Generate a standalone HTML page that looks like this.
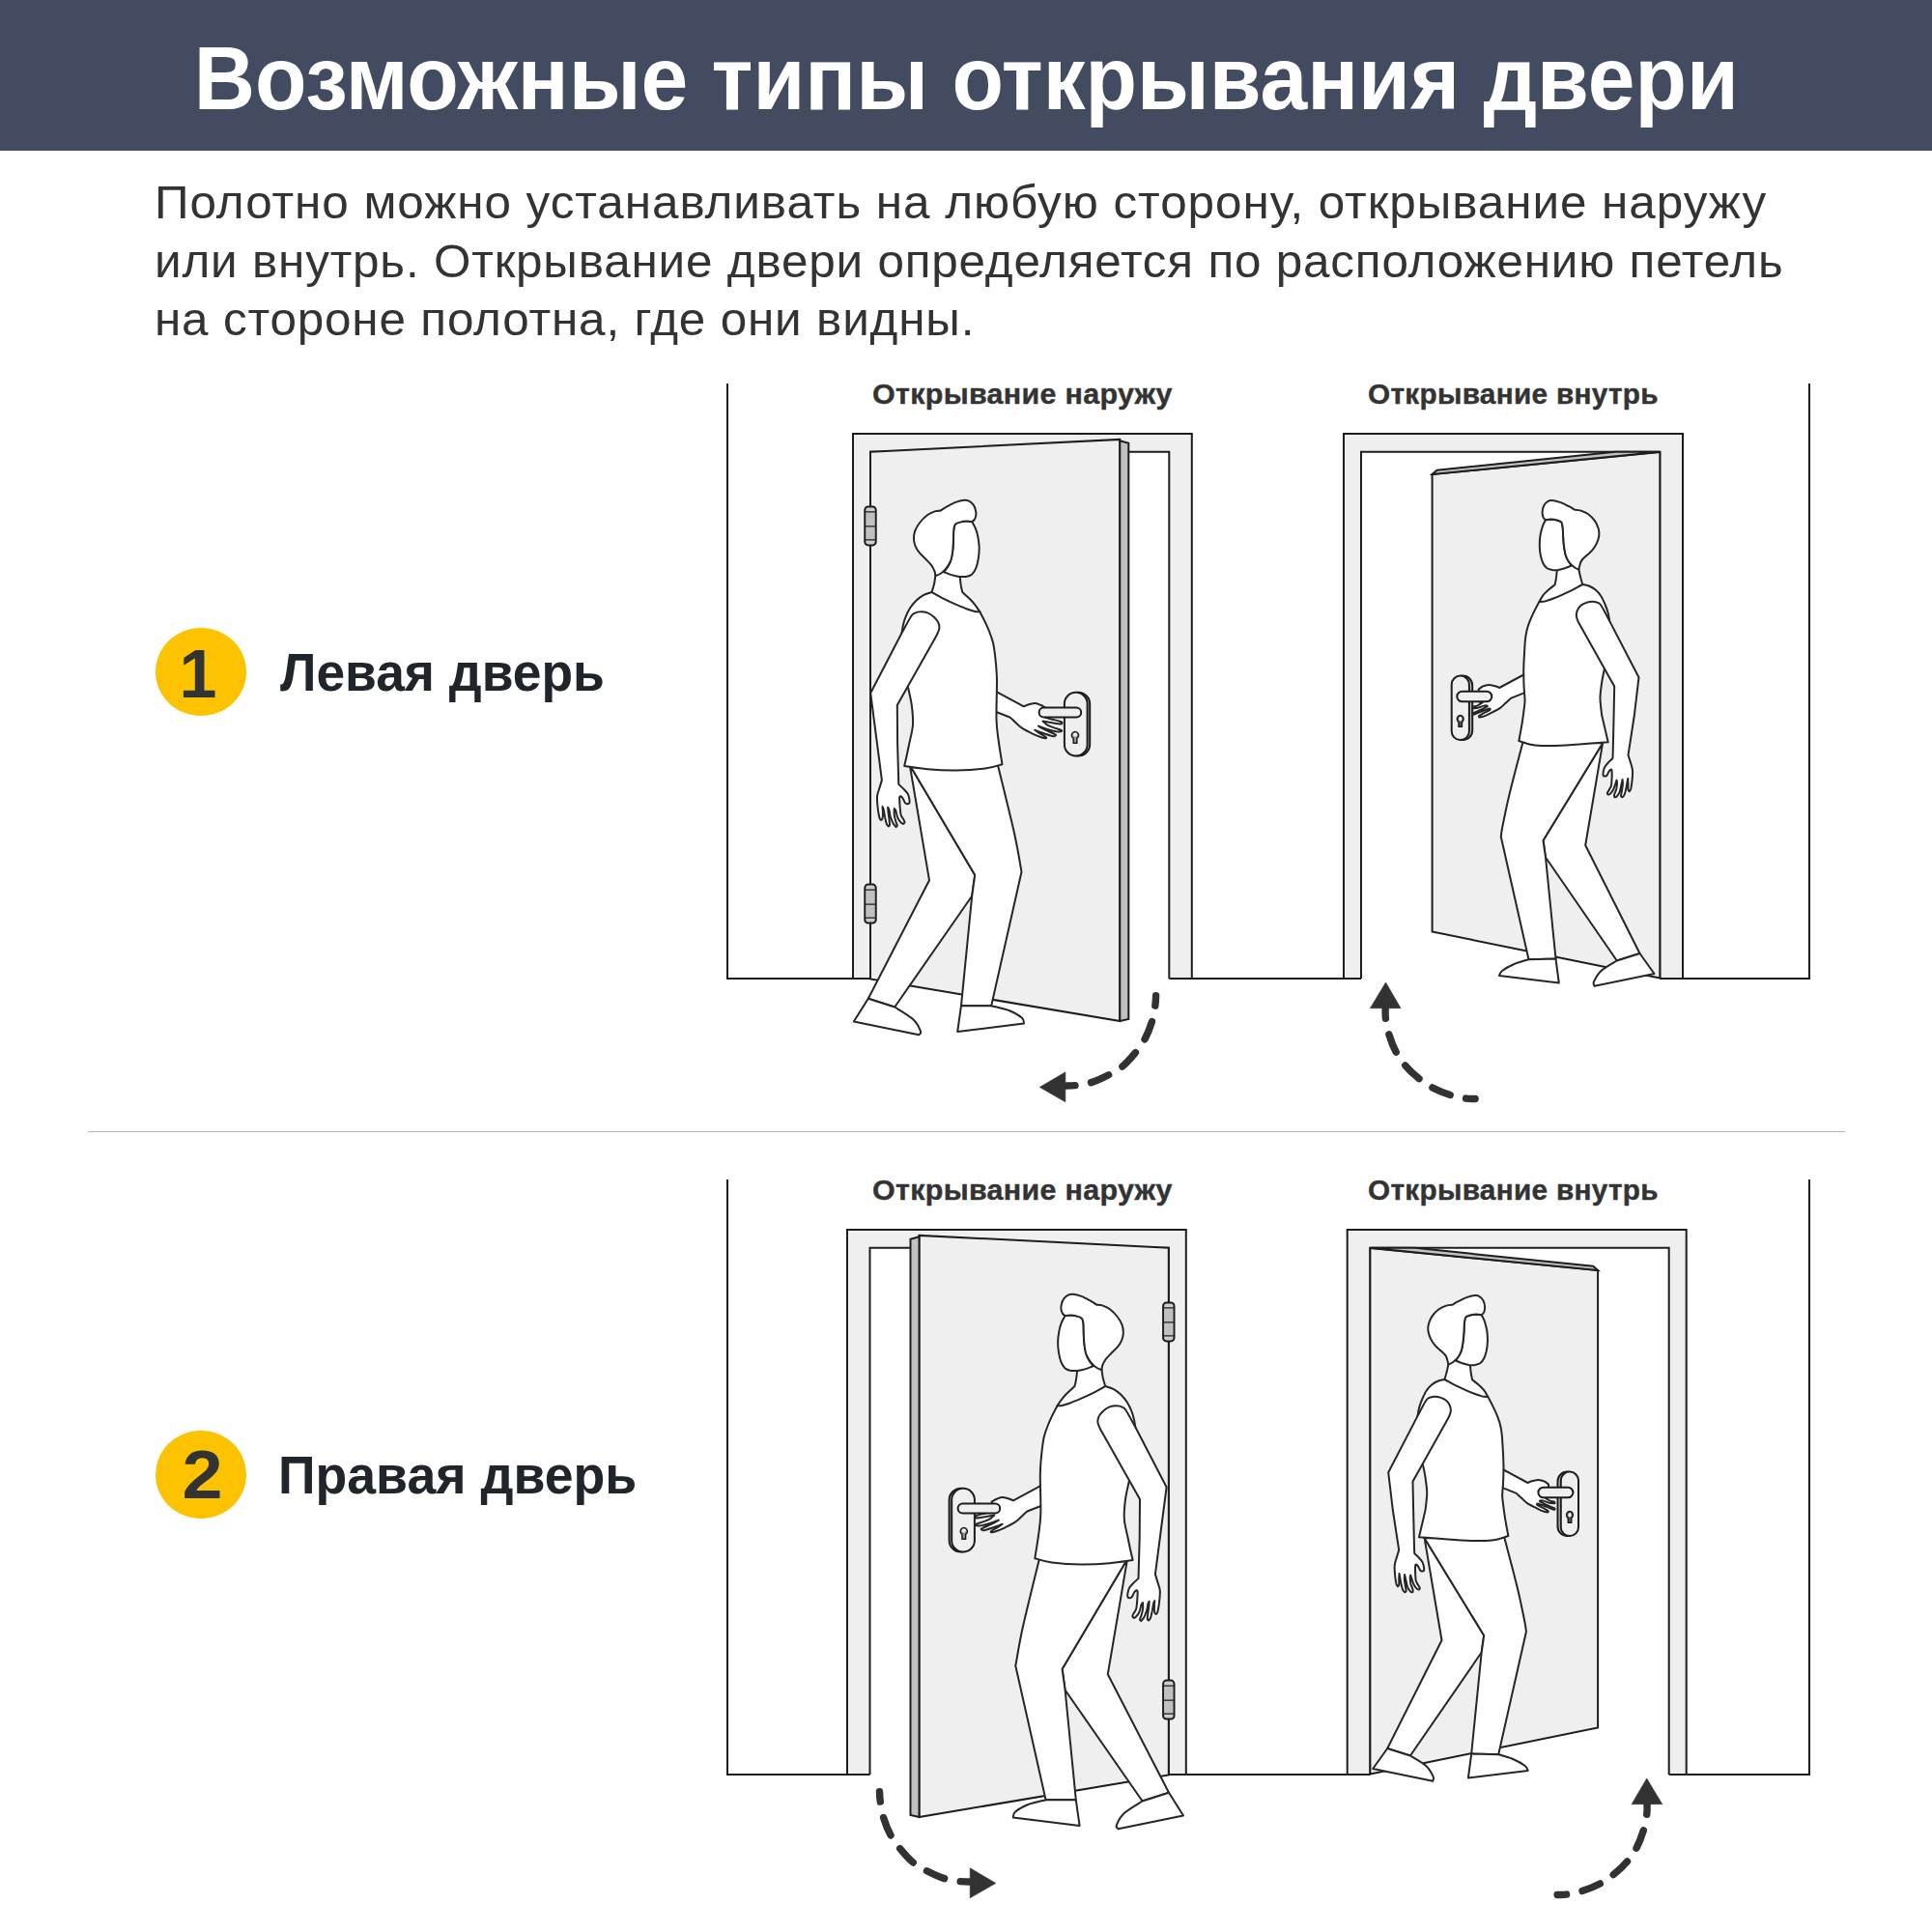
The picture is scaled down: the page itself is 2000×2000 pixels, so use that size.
<!DOCTYPE html>
<html lang="ru">
<head>
<meta charset="utf-8">
<title>Возможные типы открывания двери</title>
<style>
html,body{margin:0;padding:0;background:#fff;}
body{width:2000px;height:2000px;position:relative;overflow:hidden;font-family:"Liberation Sans",sans-serif;color:#333;}
.hdr{position:absolute;left:0;top:0;width:2000px;height:156px;background:#434b60;}
.title{position:absolute;left:0;top:0;width:2000px;height:155px;margin:0;color:#fff;font-weight:700;font-size:92.5px;line-height:155px;text-align:center;white-space:nowrap;letter-spacing:0px;}
.title span{display:inline-block;position:relative;top:4px;left:0.5px;transform:scaleX(0.947);transform-origin:50% 50%;}
.para{position:absolute;left:160px;top:180.2px;margin:0;font-size:47.5px;line-height:60.4px;color:#333;white-space:nowrap;letter-spacing:1.8px;}
.para span{display:block;transform-origin:0 50%;transform:scaleX(1.04);}
.lbl{position:absolute;font-weight:700;font-size:29px;line-height:34px;letter-spacing:0.3px;-webkit-text-stroke:0.4px #333;transform-origin:0 50%;color:#333;white-space:nowrap;}
.num{position:absolute;width:94px;height:91.4px;border-radius:50%;background:#fec300;color:#333;font-weight:700;font-size:70px;line-height:91.4px;text-align:center;}
.num span{display:inline-block;}
.big{position:absolute;transform-origin:0 50%;font-weight:700;font-size:55px;line-height:64px;color:#20252b;white-space:nowrap;}
.hr{position:absolute;left:91px;top:1171px;width:1819px;height:1px;background:#b3b3b3;}
</style>
</head>
<body>
<div class="hdr"></div>
<h1 class="title"><span id="title">Возможные типы открывания двери</span></h1>
<p class="para"><span style="letter-spacing:0.92px"><i id="p1" style="font-style:normal">Полотно можно устанавливать на любую сторону, открывание наружу</i></span><span style="letter-spacing:0.78px"><i id="p2" style="font-style:normal">или внутрь. Открывание двери определяется по расположению петель</i></span><span style="letter-spacing:0.8px"><i id="p3" style="font-style:normal">на стороне полотна, где они видны.</i></span></p>
<svg width="2000" height="2000" viewBox="0 0 2000 2000" style="position:absolute;left:0;top:0">
<defs>
<g id="fig1" fill="none" stroke="#1d1d1b" stroke-width="2.0" stroke-linejoin="miter" stroke-linecap="butt"><path d="M883 1013V449H1233.8V1013H1210.3V467.8H901V1013Z" fill="#efefef" stroke="none"/><path d="M883 1013V449H1233.8V1013M901 1013V467.8H1210.3V1013M883 1013H901M1210.3 1013H1233.8"/><path d="M901 467.8L1159.3 454.9V1057L901 1013.5Z" fill="#efefef"/><path d="M1159.3 456.3L1168.3 458.7V1055L1159.3 1057Z" fill="#c1c1c1"/><rect x="895.3" y="524.4" width="11.4" height="40" rx="3.4" fill="#cdcdcd"/><rect x="896.9" y="529.9" width="8.2" height="29" fill="#c0c0c0" stroke="none"/><path d="M895.3 529.9H906.7M895.3 544.9H906.7M895.3 558.9H906.7" stroke-width="1.4"/><rect x="895.3" y="915.6" width="11.4" height="40" rx="3.4" fill="#cdcdcd"/><rect x="896.9" y="921.1" width="8.2" height="29" fill="#c0c0c0" stroke="none"/><path d="M895.3 921.1H906.7M895.3 936.1H906.7M895.3 950.1H906.7" stroke-width="1.4"/><rect x="1104" y="716.7" width="24.2" height="65.8" rx="12.1" fill="#c1c1c1"/><rect x="1101.9" y="716.7" width="23.7" height="65.8" rx="11.85" fill="#efefef"/><path d="M1111.2 769.3V764.3A3.6 3.6 0 1 1 1114.8 764.3V769.3Z" fill="#9a9a9a" stroke-width="1.5"/><circle cx="1113" cy="760.6" r="2" fill="#efefef" stroke="none"/></g>
<g id="per1" fill="#fff" stroke="#262626" stroke-width="2.0" stroke-linejoin="round" stroke-linecap="round"><path d="M1029.3 714.8L1059.8 731.3C1060.8 730.9 1064 729.6 1066 729C1067.9 728.5 1069.7 727.9 1071.6 728C1073.4 728.1 1075.4 729 1077.1 729.8C1078.9 730.5 1081.3 732.1 1082.1 732.5L1082.1 742.8C1084 743.3 1090.5 744.8 1093.3 745.6C1096.1 746.4 1097.7 746.9 1098.8 747.5C1099.8 748 1099.6 748.4 1099.4 748.7C1099.2 749 1099.5 749.5 1097.6 749.4C1095.8 749.3 1091.3 748.5 1088.3 748.1C1085.3 747.6 1081.1 746.9 1079.6 746.6C1080.6 747.4 1082.7 749.9 1085.2 751.2C1087.7 752.5 1092.3 753.7 1094.5 754.5C1096.8 755.3 1098.1 755.5 1098.8 756C1099.4 756.4 1099.1 757 1098.4 757.2C1097.7 757.5 1096.7 757.8 1094.5 757.5C1092.3 757.1 1088.5 756.3 1085.2 755.3C1082 754.4 1076.7 752.2 1075 751.6C1076.2 752.3 1079.3 754.3 1082.1 755.7C1085 757.1 1090.3 759.1 1092 760.1C1093.8 761 1092.9 761.1 1092.5 761.4C1092.2 761.8 1091.9 762.5 1090.2 762.2C1088.4 761.9 1085.3 760.8 1082.1 759.7C1079 758.6 1073.1 756.4 1071.2 755.7C1072.2 756.4 1075.2 758.3 1077.1 759.6C1079.1 760.8 1081.9 762.4 1082.7 763.2C1083.6 764 1083.3 764.5 1082.1 764.3C1081 764.2 1078.2 763.4 1075.9 762.5C1073.6 761.7 1071 760.5 1068.4 759.3C1065.9 758 1062.7 756.6 1060.4 755.2C1058.1 753.9 1056.9 752.9 1054.8 751.2C1052.7 749.4 1049.6 746.2 1048 744.7C1046.3 743.2 1045.4 742.6 1044.8 742.2L1029.3 736.3Z"/><path d="M941.8 792L1009.2 905.8L1006.2 927.5L926.2 1042.5L898.8 1033.8L962 911.2Z"/><path d="M941.8 792L1032.2 790L1033.8 795.5C1036.5 806.7 1046 844.7 1050 862.5C1054 880.3 1056.2 895.8 1057.5 902.5L1026.2 1041.2L995 1041.2L1006.2 927.5L1009.2 905.8Z"/><path d="M898.8 1033.8L883.8 1057.5L951.2 1071.2C951.5 1070.6 954 1070.2 953 1067.5C952 1064.8 949.5 1059.2 945 1055C940.5 1050.8 929.4 1044.6 926.2 1042.5Z"/><path d="M995 1041.2L991.2 1068L1060 1059.5C1059.7 1058.5 1060.5 1056 1058 1053.8C1055.5 1051.5 1050.3 1048.3 1045 1046.2C1039.7 1044.2 1029.4 1042.1 1026.2 1041.2Z"/><path d="M964.6 613C963.1 613.6 958.6 614.7 955.9 616.1C953.2 617.6 950.7 619.6 948.4 621.7C946.2 623.9 944.1 626.3 942.2 629.2C940.4 632.1 938.5 636 937.3 639.1C936 642.2 935.4 645.1 934.8 647.8C934.2 650.5 933.7 654 933.5 655.3L940 711.2C940.6 714.4 942.9 723.5 943.8 730C944.6 736.5 945.4 743.3 945 750C944.6 756.7 942.7 762.8 941.2 770C939.8 777.2 937.1 789.2 936.2 793C940.2 793.5 951 795.5 960 796.2C969 797 980 797.6 990 797.5C1000 797.4 1012.1 796.5 1020 795.5C1027.9 794.5 1034.6 792 1037.5 791.2C1036.9 787.3 1034.8 775.2 1033.8 767.5C1032.8 759.8 1031.8 755.4 1031.5 745C1031.2 734.6 1032.1 714.4 1032 705C1031.9 695.6 1031.4 693.6 1031.1 688.8C1030.7 684.1 1030.3 680.3 1029.8 676.4C1029.3 672.5 1028.9 668.9 1028 665.2C1027 661.5 1025.7 657.8 1024.2 654C1022.8 650.3 1020.9 646.3 1019.3 642.9C1017.6 639.4 1015.1 634.9 1014.3 633.3C1013.5 632.1 1011.2 628.4 1009.3 626.1C1007.5 623.7 1005.3 621.4 1003.1 619.3C1000.9 617.1 997.4 614.1 996.3 613C996 611.8 995.1 608.2 994.7 605.6C994.2 603 993.9 598.9 993.8 597.5L991.9 587L974.5 587L968.3 596.3C968.1 597.6 967.7 601.6 967.1 604.3C966.5 607.1 965 611.6 964.6 613Z"/><path d="M964.6 613C966.7 614.2 972.9 617.8 977 619.9C981.2 622 985.3 623.9 989.4 625.7C993.6 627.5 998.6 629.6 1001.9 630.8C1005.2 632 1007.2 632.5 1009.3 632.9C1011.4 633.3 1013.5 633.2 1014.3 633.3" fill="none"/><path d="M933.5 655.3C935.1 652.5 940.7 641.9 942.9 638.5C945 635.1 944.9 635.7 946.6 634.8C948.2 633.9 950.5 633.2 952.8 633.2C955.1 633.1 957.9 633.5 960.2 634.4C962.6 635.4 965.2 637.2 967.1 638.9C968.9 640.6 970.6 642.7 971.4 644.7C972.3 646.7 972.6 648.8 972.3 650.9C972 653.1 970 656.6 969.6 657.8L928.8 730L929.1 770L930.3 811.9C931.2 812.8 934.3 815.6 935.9 817.2C937.5 818.8 938.7 820 939.6 821.6C940.5 823.1 940.9 825 941.2 826.5C941.5 828.1 941.7 829.9 941.5 830.9C941.2 831.8 940.4 832.2 939.6 832.2C938.9 832.3 937.8 831.7 937.1 831.2C936.5 830.6 936.4 829.9 935.9 829C935.4 828.1 935 826.7 934.3 825.9C933.7 825.1 932.7 824.5 932.2 824.3C931.7 824.2 931.4 824.5 931.2 825.3C931.1 826.1 931.1 826.8 931.2 829C931.3 831.2 931.6 835.8 931.9 838.3C932.1 840.9 932.2 842.6 932.8 844.2C933.4 845.9 934.7 847.1 935.3 848.3C935.9 849.5 936.6 850.6 936.5 851.4C936.4 852.2 935 852.8 934.7 853C934.1 852.6 932.5 851.3 931.6 850.1C930.6 848.9 929.8 847.6 929.1 845.8C928.3 843.9 927.7 840.4 927.2 838.9C926.7 837.5 926.1 837.3 925.8 837C925.8 838 925.4 841.1 925.7 843.3C925.9 845.5 926.7 848.3 927.2 850.1C927.7 852 928.7 853.5 928.8 854.5C928.8 855.5 927.7 855.9 927.5 856.1C927 855.6 925.7 854.3 924.7 852.6C923.8 850.9 922.7 848.2 921.9 845.8C921.2 843.4 920.8 840 920.4 838.3C919.9 836.6 919.3 836.1 919.1 835.7C919.2 836.5 919.2 838.2 919.4 840.2C919.6 842.2 920.1 845.4 920.4 847.6C920.6 849.9 921.1 852.5 921 853.9C920.9 855.2 920 855.2 919.8 855.5C919.4 855.1 918.5 854.6 917.9 853.2C917.3 851.8 916.9 849.5 916.3 847C915.8 844.5 915.2 840.3 914.8 838.3C914.3 836.3 913.7 835.6 913.5 835.1C913.6 836.1 913.9 839.4 913.9 841.4C913.9 843.5 913.9 846.1 913.5 847.3C913.2 848.6 912.2 848.7 912 849C911.8 848.7 911.2 848.5 910.7 847.3C910.3 846.2 909.9 844.1 909.5 842C909.1 840 908.8 837.7 908.6 835.2C908.3 832.7 908 829.2 908 827.1C907.9 825.1 908 824.3 908.3 822.8C908.6 821.2 909 820.4 909.8 817.8C910.6 815.3 912.4 809.3 912.9 807.6L901.2 717.5Z"/><path d="M1006.2 540C1006.8 541.2 1008.9 544.6 1009.9 547.2C1011 549.9 1011.8 552.6 1012.4 555.9C1013 559.2 1013.6 563.4 1013.7 567.1C1013.7 570.8 1013.4 574.7 1012.8 578.3C1012.2 581.8 1011.4 585.5 1010.3 588.2C1009.2 590.9 1007.9 593 1006.2 594.4C1004.5 595.9 1002.2 596.5 1000 596.9C997.8 597.3 995.5 597.1 993.2 596.9C990.8 596.6 988.4 596.2 985.7 595.4C983 594.6 978.5 592.7 977 592.2C978.1 590.7 981.7 587 983.2 583.2C984.8 579.5 985.7 573.7 986.3 569.6C987 565.4 986.8 561.9 987 558.4C987.1 554.9 987 551 987.3 548.4C987.6 545.9 987.6 544.2 988.8 542.9C990 541.5 992.4 540.9 994.4 540.4C996.4 539.8 998.7 539.6 1000.6 539.5C1002.6 539.4 1005.3 539.9 1006.2 540Z"/><path d="M968.3 596.3C968.2 595.5 968.3 593.7 967.7 591.9C967.1 590.2 966.1 587.9 964.6 585.7C963 583.5 960.5 581.1 958.4 578.9C956.3 576.7 953.9 574.8 952.2 572.7C950.4 570.5 948.9 568.2 947.8 565.8C946.8 563.5 946.1 561.1 946 558.4C945.9 555.7 946.2 552.6 947.2 549.7C948.2 546.8 950.1 543.7 952.2 541C954.2 538.3 957.1 535.4 959.6 533.5C962.1 531.6 964.8 530.4 967.1 529.6C969.4 528.8 972.3 528.9 973.3 528.8C974.3 528.2 976.8 526.3 979.5 524.8C982.2 523.4 986.3 521.1 989.4 519.9C992.5 518.7 995.9 518 998.1 517.8C1000.4 517.6 1001.6 517.9 1003.1 518.6C1004.7 519.4 1006.3 520.8 1007.5 522.4C1008.6 523.9 1009.5 526.1 1009.9 528C1010.4 529.8 1010.5 531.9 1010.3 533.5C1010.1 535.2 1009.4 536.8 1008.7 537.9C1008 539 1006.6 539.6 1006.2 540C1005.3 539.9 1002.6 539.4 1000.6 539.5C998.7 539.6 996.4 539.8 994.4 540.4C992.4 540.9 990 541.5 988.8 542.9C987.6 544.2 987.6 545.9 987.3 548.4C987 551 987.1 554.9 987 558.4C986.8 561.9 986.7 566 986.3 569.6C985.9 573.1 985.5 576.5 984.5 579.5C983.4 582.5 981.8 585.3 980.1 587.6C978.5 589.9 976.5 591.7 974.5 593.2C972.6 594.6 969.4 595.8 968.3 596.3Z"/></g>
<g id="lev1" fill="#efefef" stroke="#1d1d1b" stroke-width="2.0"><rect x="1075.6" y="732.6" width="43.6" height="10" rx="5"/></g>
<g id="fig2" fill="none" stroke="#1d1d1b" stroke-width="2.0" stroke-linejoin="miter" stroke-linecap="butt"><path d="M1391 1013V449H1742V1013H1718.3V467.8H1409V1013Z" fill="#efefef" stroke="none"/><path d="M1391 1013V449H1742V1013M1409 1013V467.8H1718.3V1013M1391 1013H1409M1718.3 1013H1742"/><path d="M1718.3 468L1482.6 491V964.5L1718.3 1012.5Z" fill="#efefef"/><path d="M1482.6 491L1487.5 486.8L1672 467.8H1718.3Z" fill="#c1c1c1"/><rect x="1504.6" y="699.6" width="19.6" height="66.4" rx="9.8" fill="#c1c1c1"/><rect x="1502.7" y="699.6" width="18.2" height="66.4" rx="9.1" fill="#efefef"/><path d="M1510 752.3V747.6A3.4 3.8 0 1 1 1513.4 747.6V752.3Z" fill="#555" stroke-width="1.5"/><ellipse cx="1511.7" cy="744.2" rx="1.7" ry="2.2" fill="#efefef" stroke="none"/></g>
<g id="per2" fill="#fff" stroke="#262626" stroke-width="2.0" stroke-linejoin="round" stroke-linecap="round"><path d="M1578.2 698L1552.1 712C1551.7 711.8 1550.9 711.2 1549.6 710.7C1548.4 710.3 1546.3 709.6 1544.7 709.4C1543 709.1 1541.3 709 1539.7 709.2C1538 709.4 1536.2 710 1534.7 710.7C1533.2 711.5 1531.4 713.1 1530.7 713.5L1530.7 726.3L1534.7 727.2C1533.9 727.7 1531.4 729.6 1529.8 730.3C1528.1 731.1 1525.7 731.2 1524.8 731.7C1523.9 732.2 1524.4 733 1524.3 733.3C1525.2 733.2 1527.8 733.2 1529.8 732.8C1531.7 732.3 1534.4 731 1536 730.6C1537.5 730.2 1538.4 730.3 1538.9 730.5C1539.5 730.7 1540.5 730.8 1539.1 731.7C1537.6 732.6 1532.8 734.8 1530.4 735.9C1527.9 737 1525.3 738.1 1524.3 738.5C1524.4 738.7 1523.6 740.1 1525.1 739.8C1526.6 739.4 1530.8 737.5 1533.5 736.5C1536.1 735.5 1539.5 734.1 1541.1 733.7C1542.6 733.3 1542.5 733.9 1542.5 734.2C1542.6 734.4 1543.1 734.5 1541.6 735.4C1540 736.3 1535.2 738.6 1533.5 739.6C1531.7 740.6 1531.4 741 1531 741.3C1531.1 741.5 1530.5 742.6 1531.7 742.5C1533 742.4 1536.1 741.5 1538.4 740.6C1540.8 739.6 1543.5 738.1 1545.9 736.8C1548.3 735.6 1550.7 734.6 1552.7 733.1C1554.8 731.7 1556.5 729.8 1558.3 728.1C1560.2 726.4 1563 723.7 1563.9 722.9L1578.2 717.1Z"/><path d="M1659.1 769.2L1597.5 870L1600 887.5L1673.8 994.5L1697.5 987L1641.2 875Z"/><path d="M1576.6 768C1574.2 777.1 1566 808 1562.5 822.5C1559 837 1557 847.7 1555.5 855C1554 862.3 1554 864.4 1553.8 866.2L1582.5 993.2L1610.5 992.5L1600 887.5L1597.5 870L1659.1 769.2Z"/><path d="M1582.5 993.2C1580 994 1572.1 996 1567.5 998C1562.9 1000 1557.6 1003 1555 1005C1552.4 1007 1552.5 1009.2 1552 1010L1613.8 1017.5L1610.5 992.5Z"/><path d="M1673.8 994.5C1671 996.2 1661.5 1001.4 1657.5 1005C1653.5 1008.6 1651.2 1013.6 1650 1016.2C1648.8 1018.9 1650.4 1020 1650.5 1020.8L1712.5 1008L1697.5 987Z"/><path d="M1638.3 605C1639.4 605.3 1643.1 605.9 1645.3 606.8C1647.6 607.8 1649.6 608.9 1651.6 610.6C1653.5 612.2 1655.5 614.3 1657.1 616.8C1658.8 619.3 1660.2 622.6 1661.5 625.5C1662.7 628.4 1663.8 631.3 1664.6 634.2C1665.4 637.1 1665.9 641.4 1666.2 642.9L1660.9 692.5C1660.5 694.6 1659.1 700.2 1658.4 705C1657.7 709.7 1656.7 716.8 1656.5 721.1C1656.3 725.5 1656.9 727.9 1657.1 731.1C1657.4 734.2 1658 738.5 1658.1 740L1664.7 768.3C1659.7 768.6 1644 769.8 1634.8 770.4C1625.7 771.1 1616.5 771.7 1610 772C1603.5 772.2 1600.1 772.2 1595.6 771.9C1591.1 771.7 1587 771.2 1583.2 770.4C1579.3 769.5 1574.1 767.5 1572.3 767C1572.9 763.9 1574.7 754.5 1575.7 748.3C1576.7 742.1 1577.7 733.8 1578.2 729.7C1578.7 725.5 1578.6 726.6 1578.5 723.5C1578.4 720.4 1577.8 715.2 1577.6 711.1C1577.4 706.9 1577.3 701.9 1577.3 698.6C1577.2 695.3 1577.1 695 1577.3 691.3C1577.4 687.6 1577.7 681.2 1578 676.4C1578.3 671.6 1578.5 666.7 1578.9 662.7C1579.3 658.8 1579.8 655.9 1580.5 652.8C1581.2 649.7 1581.9 647.4 1583.2 644.1C1584.5 640.8 1586.5 636.4 1588.2 632.9C1589.9 629.4 1592.5 624.6 1593.4 623C1594.1 621.8 1595.9 618.2 1597.5 616.1C1599.1 614.1 1601.1 612.4 1603.1 610.6C1605.1 608.8 1608.5 606.2 1609.6 605.3C1609.8 604.3 1610.4 601.8 1610.8 599.4C1611.2 596.9 1611.6 592.1 1611.8 590.7L1611.8 582L1629.2 582L1634.4 589.7C1634.7 591.1 1635.6 595.6 1636.3 598.1C1636.9 600.7 1637.9 603.8 1638.3 605Z"/><path d="M1638.3 605C1636.5 605.9 1631.3 608.8 1628 610.6C1624.6 612.3 1621.3 613.8 1618 615.3C1614.7 616.8 1611.2 618.3 1608.1 619.5C1605 620.7 1601.8 621.8 1599.4 622.4C1596.9 622.9 1594.4 622.9 1593.4 623" fill="none"/><path d="M1666.2 642.9C1664.8 640.3 1659.7 630.4 1657.8 627.3C1655.8 624.2 1656.1 625 1654.7 624.2C1653.2 623.5 1651 622.8 1649.1 622.7C1647.1 622.6 1644.9 622.9 1642.9 623.6C1640.8 624.3 1638.3 625.3 1636.6 626.7C1634.9 628.2 1633.5 630.4 1632.7 632.3C1631.9 634.2 1631.7 635.9 1631.9 637.9C1632.1 639.9 1633.6 643.1 1633.9 644.1L1671.2 710.6L1670.6 740L1669.6 782.9L1669.3 785.3C1668.7 785.9 1667.2 787.1 1665.9 788.4C1664.6 789.8 1662.5 791.9 1661.6 793.4C1660.6 795 1660.3 796.2 1660 797.8C1659.7 799.3 1659.4 801.8 1659.6 802.7C1659.7 803.7 1660.3 803.6 1660.9 803.6C1661.6 803.6 1662.7 803.4 1663.4 802.7C1664.1 802.1 1664.3 800.6 1665 799.6C1665.6 798.6 1666.6 797.3 1667.1 796.8C1667.7 796.4 1668.1 796.1 1668.4 797C1668.6 797.8 1668.7 799.5 1668.7 802.1C1668.6 804.7 1668.4 810.4 1668.1 812.7C1667.8 814.9 1667.5 814.4 1666.8 815.8C1666.2 817.1 1664.4 819.6 1664 820.7C1663.6 821.9 1664.4 822.1 1664.5 822.4C1664.8 822.3 1665.7 822.7 1666.5 822C1667.4 821.3 1668.7 819.9 1669.6 818.3C1670.6 816.6 1671.5 813.8 1672.1 812C1672.8 810.3 1673.3 808.3 1673.5 807.6C1673.6 808 1674 808.7 1674 810.2C1674 811.7 1673.8 814.3 1673.4 816.4C1672.9 818.5 1671.5 821.1 1671.2 822.6C1670.8 824.1 1671.3 824.8 1671.3 825.2C1671.6 825.1 1672.5 825.6 1673.4 824.8C1674.2 823.9 1675.6 822.1 1676.5 820.1C1677.3 818.1 1677.8 814.9 1678.3 812.7C1678.8 810.5 1679.4 807.9 1679.6 807C1679.6 807.7 1680 809.4 1679.9 811.4C1679.8 813.4 1679.3 816.8 1678.9 818.9C1678.6 821 1678 822.8 1678 823.9C1678.1 824.9 1679 825.1 1679.3 825.3C1679.6 825 1680.8 824.7 1681.4 823.2C1682.1 821.7 1682.8 818.7 1683.3 816.4C1683.8 814.1 1684.2 811.3 1684.5 809.6C1684.8 807.8 1685.1 806.6 1685.2 806C1685.2 806.9 1685.4 809.5 1685.5 811.4C1685.5 813.4 1685.3 816.3 1685.5 817.6C1685.7 819 1686.5 819 1686.7 819.3C1687 818.8 1687.8 818.2 1688.3 816.4C1688.7 814.6 1689.2 811.1 1689.5 808.3C1689.8 805.5 1690.1 801.9 1690.1 799.6C1690.1 797.3 1689.9 796.5 1689.5 794.7C1689.1 792.8 1688.3 790.6 1687.6 788.4C1687 786.3 1685.8 782.8 1685.5 781.6L1691.9 740L1696.5 701.2Z"/><path d="M1600 538.3C1599.5 539.3 1597.8 542 1596.9 544.7C1596 547.5 1594.9 551.1 1594.4 554.7C1593.9 558.2 1593.7 562.3 1593.8 565.8C1593.9 569.4 1594.4 572.9 1595 575.8C1595.7 578.7 1596.5 581.2 1597.5 583.2C1598.6 585.3 1599.7 586.8 1601.2 588C1602.8 589.1 1604.9 589.7 1606.8 590.1C1608.8 590.4 1610.8 590.4 1613 590.1C1615.3 589.7 1618.2 588.7 1620.5 588C1622.8 587.2 1625.7 585.9 1626.7 585.5C1625.8 583.9 1622.4 578.8 1621.1 575.8C1619.9 572.7 1619.7 570.2 1619.3 567.1C1618.8 564 1618.5 560.5 1618.3 557.1C1618 553.8 1618.1 549.9 1617.8 547.2C1617.5 544.5 1617.5 542.2 1616.5 540.7C1615.5 539.3 1613.6 539 1611.8 538.5C1610 538 1607.6 537.6 1605.6 537.5C1603.6 537.5 1600.9 538.1 1600 538.3Z"/><path d="M1634.4 589.7C1634.5 589 1634.7 587.3 1635.2 585.7C1635.6 584.1 1636.1 581.9 1637.3 580.1C1638.4 578.4 1640.5 576.8 1642.2 575.2C1644 573.5 1646.1 572.3 1647.8 570.2C1649.6 568.1 1651.6 565.3 1652.8 562.7C1654 560.1 1655 557.2 1655.3 554.7C1655.6 552.1 1655.4 549.8 1654.7 547.2C1653.9 544.6 1652.7 541.6 1650.9 539.1C1649.2 536.6 1646.5 534.1 1644.1 532.3C1641.7 530.5 1639 529.4 1636.6 528.6C1634.3 527.8 1631 527.7 1629.8 527.6C1628.9 527 1626.6 525.5 1624.2 524.2C1621.8 523 1618.4 521.2 1615.5 520.1C1612.6 519.1 1609.1 518.2 1606.8 518C1604.6 517.9 1603.3 518.3 1601.9 519.3C1600.4 520.2 1599 521.8 1598.1 523.6C1597.3 525.4 1596.7 527.8 1596.6 529.8C1596.5 531.8 1597 534 1597.5 535.4C1598.1 536.8 1599.6 537.8 1600 538.3C1600.9 538.1 1603.6 537.5 1605.6 537.5C1607.6 537.6 1610 538 1611.8 538.5C1613.6 539 1615.5 539.3 1616.5 540.7C1617.5 542.2 1617.5 544.5 1617.8 547.2C1618.1 549.9 1618 553.8 1618.3 557.1C1618.5 560.5 1618.8 564 1619.3 567.1C1619.7 570.2 1620.2 573.2 1621.1 575.8C1622 578.4 1623.4 580.7 1624.8 582.6C1626.3 584.5 1628.2 586 1629.8 587.2C1631.4 588.4 1633.6 589.3 1634.4 589.7Z"/></g>
<g id="lev2" fill="#efefef" stroke="#1d1d1b" stroke-width="2.0"><rect x="1508.3" y="715.7" width="36" height="10.6" rx="5.3"/></g>
<g id="arr1"><path d="M1196.6 1030.7C1196.5 1032.4 1196.5 1036.6 1195.8 1041.1C1195.1 1045.6 1194.3 1051.8 1192.5 1057.6C1190.7 1063.4 1187.9 1070.5 1185.1 1075.8C1182.3 1081.1 1179.4 1084.8 1175.5 1089.5C1171.6 1094.2 1166.5 1100.1 1161.9 1104C1157.3 1107.9 1153.2 1109.9 1147.8 1112.7C1142.4 1115.5 1135.4 1118.8 1129.6 1120.6C1123.8 1122.4 1117.5 1123 1113 1123.6C1108.5 1124.2 1104.4 1124 1102.7 1124.1" fill="none" stroke="#323232" stroke-width="7.4" stroke-linecap="round" stroke-dasharray="19.8 16.8" stroke-dashoffset="9.4"/><path d="M1076.3 1125.4L1102.9 1109.8V1140.8Z" fill="#323232" stroke="#323232" stroke-width="0.6" stroke-linejoin="round"/></g>
<g id="arr2"><path d="M1527.1 1137.5C1525.5 1137.4 1522 1137.8 1517.6 1137.1C1513.2 1136.4 1506.4 1135.2 1500.6 1133.3C1494.8 1131.4 1488.1 1128.7 1482.8 1125.9C1477.5 1123.1 1473.4 1120.2 1468.7 1116.4C1464 1112.6 1458.7 1107.7 1454.8 1103.1C1450.9 1098.5 1447.9 1094.4 1445.1 1089C1442.3 1083.6 1439.7 1076.7 1437.9 1070.8C1436.1 1064.9 1435 1058.3 1434.4 1053.8C1433.8 1049.3 1434.2 1045.4 1434.2 1043.7" fill="none" stroke="#323232" stroke-width="7.4" stroke-linecap="round" stroke-dasharray="19.8 16.8" stroke-dashoffset="10.3"/><path d="M1434.5 1017L1418.4 1043.7H1450.1Z" fill="#323232" stroke="#323232" stroke-width="0.6" stroke-linejoin="round"/></g>
</defs>
<path d="M753 397.1V1013H883M1233.8 1013H1391M1742 1013H1873V397.1" fill="none" stroke="#1d1d1b" stroke-width="2.0"/>
<use href="#fig1"/><use href="#per1"/><use href="#lev1"/><use href="#arr1"/>
<use href="#fig2"/><use href="#per2"/><use href="#lev2"/><use href="#arr2"/>
<path d="M753 1221.1V1837H877M1227.8 1837H1394.7M1745.7 1837H1873V1221.1" fill="none" stroke="#1d1d1b" stroke-width="2.0"/>
<g transform="translate(2110.8 824) scale(-1 1)"><use href="#fig1"/><use href="#per1" transform="translate(2 -2)"/><use href="#lev1"/><use href="#arr1" transform="translate(3.7 0)"/></g>
<g transform="translate(3136.7 824) scale(-1 1)"><use href="#fig2"/><use href="#per2" transform="translate(3 -1)"/><use href="#lev2"/><use href="#arr2" transform="translate(-2.5 0)"/></g>
</svg>
<div class="lbl" id="l1" style="left:903px;top:391px;transform:scaleX(1.049)">Открывание наружу</div>
<div class="lbl" id="l2" style="left:1416px;top:391px;transform:scaleX(1.025)">Открывание внутрь</div>
<div class="lbl" id="l3" style="left:903px;top:1215px;transform:scaleX(1.049)">Открывание наружу</div>
<div class="lbl" id="l4" style="left:1416px;top:1215px;transform:scaleX(1.025)">Открывание внутрь</div>
<div class="num" id="n1" style="left:161px;top:649.8px;"><span style="position:relative;left:-3px;top:3px">1</span></div>
<div class="big" id="b1" style="left:290px;top:664px;transform:scaleX(0.97)">Левая дверь</div>
<div class="num" id="n2" style="left:161px;top:1480.8px;"><span style="position:relative;left:1px;top:1.5px;transform:scaleX(1.08)">2</span></div>
<div class="big" id="b2" style="left:288.4px;top:1495px;transform:scaleX(0.975)">Правая дверь</div>
<div class="hr"></div>
</body>
</html>
